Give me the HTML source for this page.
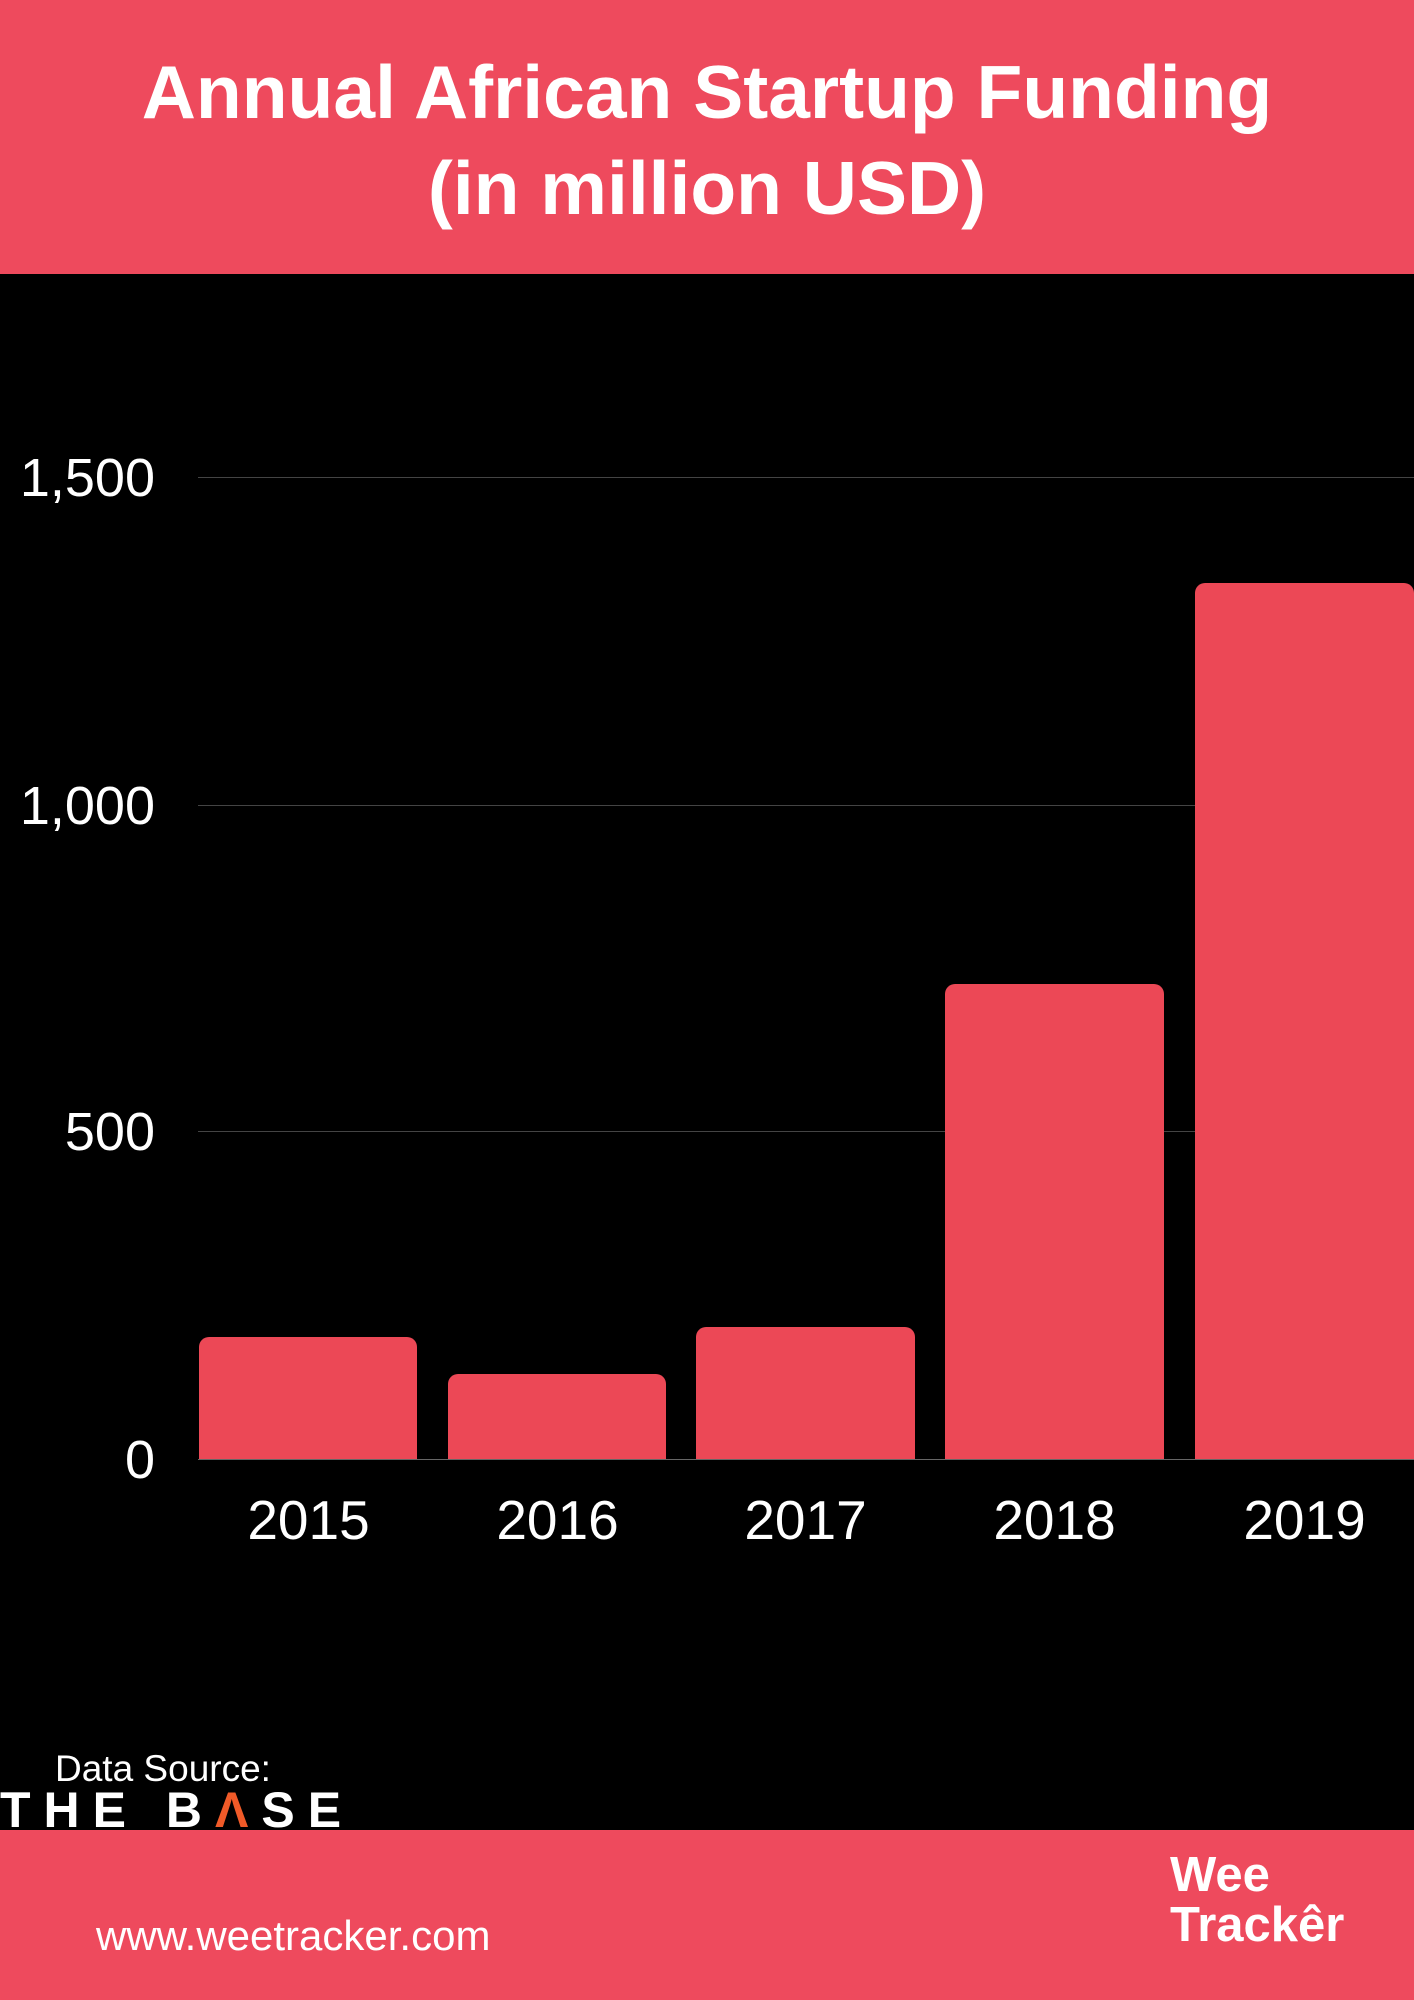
<!DOCTYPE html>
<html><head><meta charset="utf-8">
<style>
html,body{margin:0;padding:0;}
body{width:1414px;height:2000px;position:relative;background:#000;font-family:"Liberation Sans",sans-serif;overflow:hidden;}
.hdr{position:absolute;left:0;top:0;width:1414px;height:274px;background:#ee4a5d;}
.title{position:absolute;left:0;width:1414px;text-align:center;color:#fff;font-weight:bold;font-size:75px;}
.grid{position:absolute;left:198px;width:1216px;height:1px;background:#444;}
.yl{position:absolute;right:1259px;color:#fff;font-size:54px;text-align:right;}
.bar{position:absolute;background:#ec4856;border-radius:10px 10px 0 0;}
.xl{position:absolute;width:219px;text-align:center;color:#fff;font-size:55px;top:1488px;}
.ftr{position:absolute;left:0;top:1830px;width:1414px;height:170px;background:#ee4a5d;}
</style></head><body>
<div class="hdr"></div>
<div class="title" style="top:49px;">Annual African Startup Funding</div>
<div class="title" style="top:145px;">(in million USD)</div>

<div class="grid" style="top:477px"></div>
<div class="grid" style="top:805px"></div>
<div class="grid" style="top:1131px"></div>
<div class="grid" style="top:1459px;background:#666"></div>
<div class="yl" style="top:447px">1,500</div>
<div class="yl" style="top:775px">1,000</div>
<div class="yl" style="top:1101px">500</div>
<div class="yl" style="top:1429px">0</div>

<div class="bar" style="left:199px;width:218px;top:1337px;height:122px"></div>
<div class="bar" style="left:448px;width:218px;top:1374px;height:85px"></div>
<div class="bar" style="left:696px;width:219px;top:1327px;height:132px"></div>
<div class="bar" style="left:945px;width:219px;top:984px;height:475px"></div>
<div class="bar" style="left:1195px;width:219px;top:583px;height:876px"></div>

<div class="xl" style="left:199px">2015</div>
<div class="xl" style="left:448px">2016</div>
<div class="xl" style="left:696px">2017</div>
<div class="xl" style="left:945px">2018</div>
<div class="xl" style="left:1195px">2019</div>

<div style="position:absolute;left:55px;top:1748px;color:#fff;font-size:37px;">Data Source:</div>
<div style="position:absolute;left:0;top:1781px;color:#fff;font-size:50px;font-weight:bold;letter-spacing:13px;white-space:nowrap;">THE B<span style="color:#f05a28;">Λ</span>SE</div>

<div class="ftr"></div>
<div style="position:absolute;left:96px;top:1912px;color:#fff;font-size:42px;">www.weetracker.com</div>
<div style="position:absolute;left:1170px;top:1850px;color:#fff;font-size:49px;font-weight:bold;line-height:50px;">Wee<br>Trackêr</div>
</body></html>
